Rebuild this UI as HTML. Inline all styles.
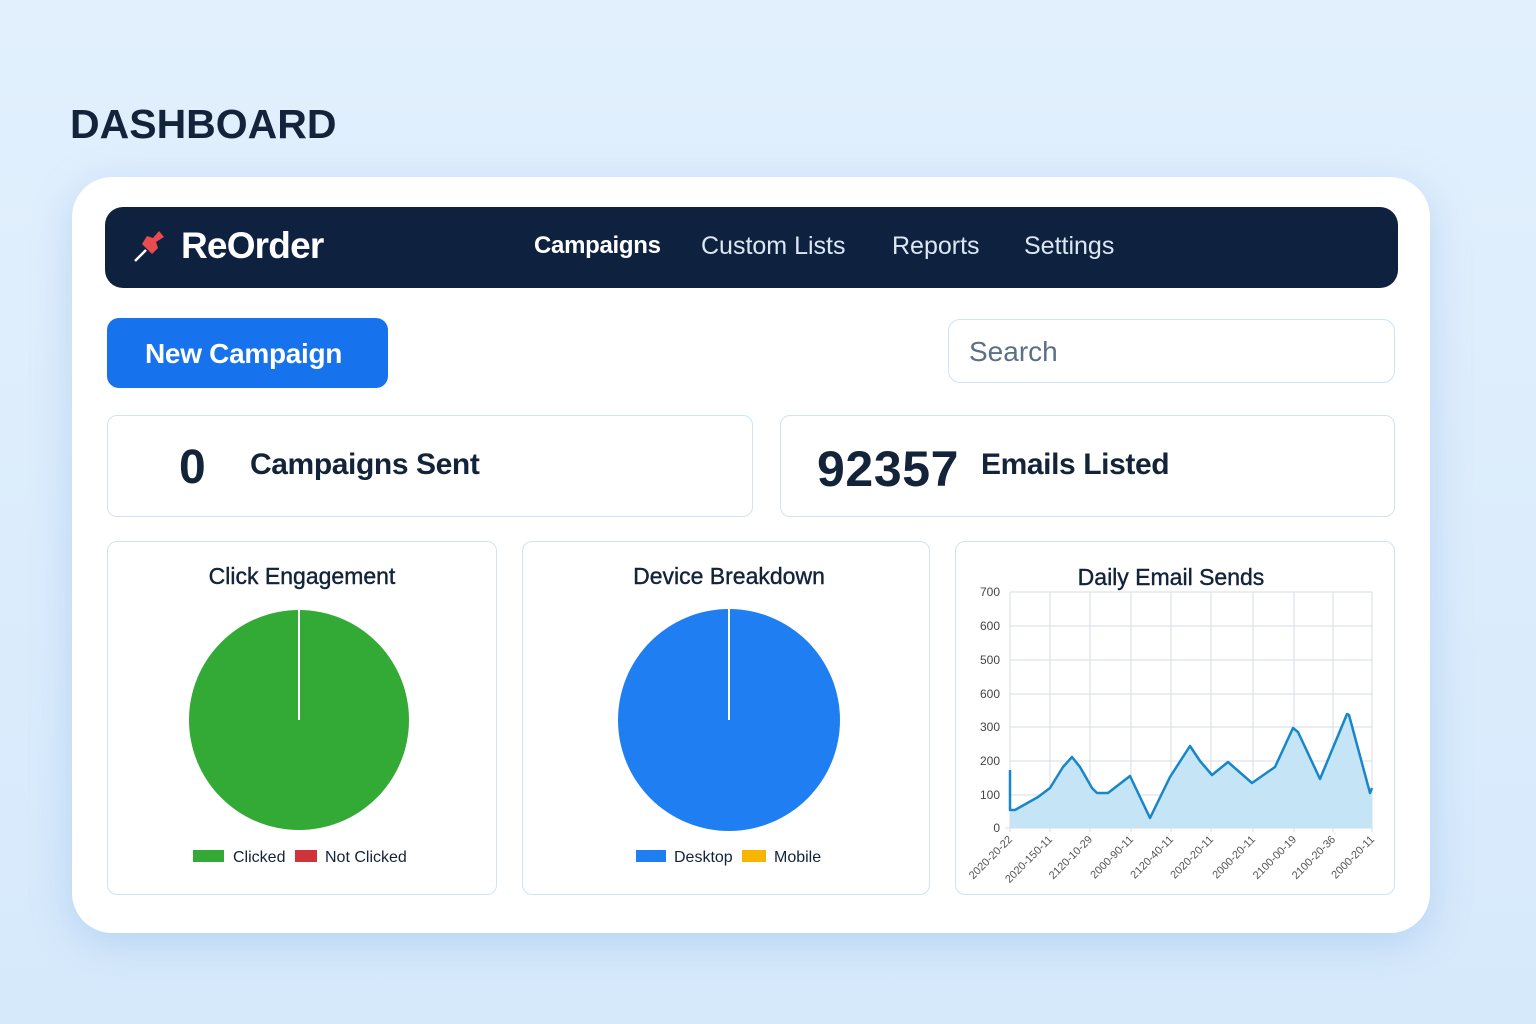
<!DOCTYPE html>
<html><head><style>
body{margin:0;width:1536px;height:1024px;background:linear-gradient(180deg,#e2f0fd,#d6e9fb);font-family:"Liberation Sans",sans-serif;position:relative;overflow:hidden}
.a{position:absolute}
.card{background:#fff;border:1.5px solid #cfe3f5;border-radius:10px}
</style></head><body>
<div class="a" style="left:70px;top:101px;font-size:41px;font-weight:bold;color:#13233a">DASHBOARD</div>
<div class="a" style="left:72px;top:177px;width:1358px;height:756px;background:#fff;border-radius:40px;box-shadow:0 10px 40px rgba(120,170,230,0.35)"></div>
<div class="a" style="left:105px;top:207px;width:1293px;height:81px;background:#0e2240;border-radius:18px"></div>
<svg class="a" style="left:132px;top:228px" width="36" height="36" viewBox="0 0 36 36"><line x1="3" y1="33" x2="14" y2="22" stroke="#fff" stroke-width="2.5"/><path d="M10 16 L20 26 L26 20 L24 14 L32 9 L27 3 L21 10 L15 8 Z" fill="#e84c4f"/></svg>
<div class="a" style="left:181px;top:225px;font-size:37px;font-weight:bold;color:#fff;letter-spacing:-0.8px">ReOrder</div>
<div class="a" style="left:534px;top:232px;font-size:24px;font-weight:bold;color:#fff;letter-spacing:-0.3px">Campaigns</div>
<div class="a" style="left:701px;top:232px;font-size:25px;color:#dce7f3">Custom Lists</div>
<div class="a" style="left:892px;top:232px;font-size:25px;color:#dce7f3">Reports</div>
<div class="a" style="left:1024px;top:232px;font-size:25px;color:#dce7f3">Settings</div>
<div class="a" style="left:107px;top:318px;width:281px;height:70px;background:#1772ed;border-radius:12px"></div>
<div class="a" style="left:145px;top:338px;font-size:28px;font-weight:bold;color:#fff;letter-spacing:-0.3px">New Campaign</div>
<div class="a card" style="left:948px;top:319px;width:445px;height:62px;border-radius:12px"></div>
<div class="a" style="left:969px;top:336px;font-size:28px;color:#5a7089">Search</div>
<div class="a card" style="left:107px;top:415px;width:644px;height:100px"></div>
<div class="a" style="left:179px;top:440px;font-size:48px;font-weight:bold;color:#13233a">0</div>
<div class="a" style="left:250px;top:448px;font-size:30px;font-weight:bold;color:#13233a;letter-spacing:-0.4px">Campaigns Sent</div>
<div class="a card" style="left:780px;top:415px;width:613px;height:100px"></div>
<div class="a" style="left:817px;top:440px;font-size:50px;font-weight:bold;color:#13233a;letter-spacing:0.6px">92357</div>
<div class="a" style="left:981px;top:448px;font-size:30px;font-weight:bold;color:#13233a;letter-spacing:-0.4px">Emails Listed</div>
<div class="a card" style="left:107px;top:541px;width:388px;height:352px"></div>
<div class="a card" style="left:522px;top:541px;width:406px;height:352px"></div>
<div class="a card" style="left:955px;top:541px;width:438px;height:352px"></div>
<div class="a" style="left:107px;top:563px;width:390px;text-align:center;font-size:23px;color:#13233a;-webkit-text-stroke:0.4px #13233a">Click Engagement</div>
<div class="a" style="left:522px;top:563px;width:414px;text-align:center;font-size:23px;color:#13233a;-webkit-text-stroke:0.4px #13233a">Device Breakdown</div>
<div class="a" style="left:955px;top:564px;width:432px;text-align:center;font-size:23px;color:#13233a;-webkit-text-stroke:0.4px #13233a">Daily Email Sends</div>
<svg class="a" style="left:0;top:0" width="1536" height="1024">
<circle cx="299" cy="720" r="110" fill="#33aa35"/><line x1="299" y1="720" x2="299" y2="609" stroke="#fff" stroke-width="2"/>
<circle cx="729" cy="720" r="111" fill="#1f7ff2"/><line x1="729" y1="720" x2="729" y2="608" stroke="#fff" stroke-width="2"/>
<rect x="193" y="850" width="31" height="12" fill="#33aa35"/><text x="233" y="862" font-size="16" fill="#13233a">Clicked</text>
<rect x="295" y="850" width="22" height="12" fill="#d0333a"/><text x="325" y="862" font-size="16" fill="#13233a">Not Clicked</text>
<rect x="636" y="850" width="30" height="12" fill="#1f7ff2"/><text x="674" y="862" font-size="16" fill="#13233a">Desktop</text>
<rect x="742" y="850" width="24" height="12" fill="#f7b500"/><text x="774" y="862" font-size="16" fill="#13233a">Mobile</text>
<g stroke="#d6dde6" stroke-width="1">
<line x1="1010" y1="592" x2="1372" y2="592"/><line x1="1010" y1="626" x2="1372" y2="626"/><line x1="1010" y1="660" x2="1372" y2="660"/><line x1="1010" y1="694" x2="1372" y2="694"/><line x1="1010" y1="727" x2="1372" y2="727"/><line x1="1010" y1="761" x2="1372" y2="761"/><line x1="1010" y1="795" x2="1372" y2="795"/><line x1="1005" y1="828" x2="1372" y2="828"/>
<line x1="1010" y1="592" x2="1010" y2="832"/><line x1="1050" y1="592" x2="1050" y2="832"/><line x1="1090" y1="592" x2="1090" y2="832"/><line x1="1131" y1="592" x2="1131" y2="832"/><line x1="1171" y1="592" x2="1171" y2="832"/><line x1="1211" y1="592" x2="1211" y2="832"/><line x1="1253" y1="592" x2="1253" y2="832"/><line x1="1294" y1="592" x2="1294" y2="832"/><line x1="1333" y1="592" x2="1333" y2="832"/><line x1="1372" y1="592" x2="1372" y2="832"/>
</g>
<g font-size="12" fill="#444" text-anchor="end">
<text x="1000" y="596">700</text><text x="1000" y="630">600</text><text x="1000" y="664">500</text><text x="1000" y="698">600</text><text x="1000" y="731">300</text><text x="1000" y="765">200</text><text x="1000" y="799">100</text><text x="1000" y="832">0</text>
</g>
<path d="M1010,770 L1010,810 L1015,810 L1038,797 L1050,788 L1063,767 L1072,757 L1080,767 L1092,788 L1097,793 L1108,793 L1130,776 L1150,818 L1170,777 L1190,746 L1200,761 L1212,775 L1228,762 L1252,783 L1275,767 L1293,728 L1298,732 L1320,779 L1347,714 L1349,715 L1370,793 L1372,788 L1372,828 L1010,828 Z" fill="#c5e5f7"/>
<path d="M1010,770 L1010,810 L1015,810 L1038,797 L1050,788 L1063,767 L1072,757 L1080,767 L1092,788 L1097,793 L1108,793 L1130,776 L1150,818 L1170,777 L1190,746 L1200,761 L1212,775 L1228,762 L1252,783 L1275,767 L1293,728 L1298,732 L1320,779 L1347,714 L1349,715 L1370,793 L1372,788" fill="none" stroke="#1787c8" stroke-width="2.5" stroke-linejoin="round"/>
<g font-size="11" fill="#555" text-anchor="end">
<text transform="translate(1013,840) rotate(-45)">2020-20-22</text>
<text transform="translate(1053,840) rotate(-45)">2020-150-11</text>
<text transform="translate(1093,840) rotate(-45)">2120-10-29</text>
<text transform="translate(1134,840) rotate(-45)">2000-90-11</text>
<text transform="translate(1174,840) rotate(-45)">2120-40-11</text>
<text transform="translate(1214,840) rotate(-45)">2020-20-11</text>
<text transform="translate(1256,840) rotate(-45)">2000-20-11</text>
<text transform="translate(1297,840) rotate(-45)">2100-00-19</text>
<text transform="translate(1336,840) rotate(-45)">2100-20-36</text>
<text transform="translate(1375,840) rotate(-45)">2000-20-11</text>
</g>
</svg>
</body></html>
